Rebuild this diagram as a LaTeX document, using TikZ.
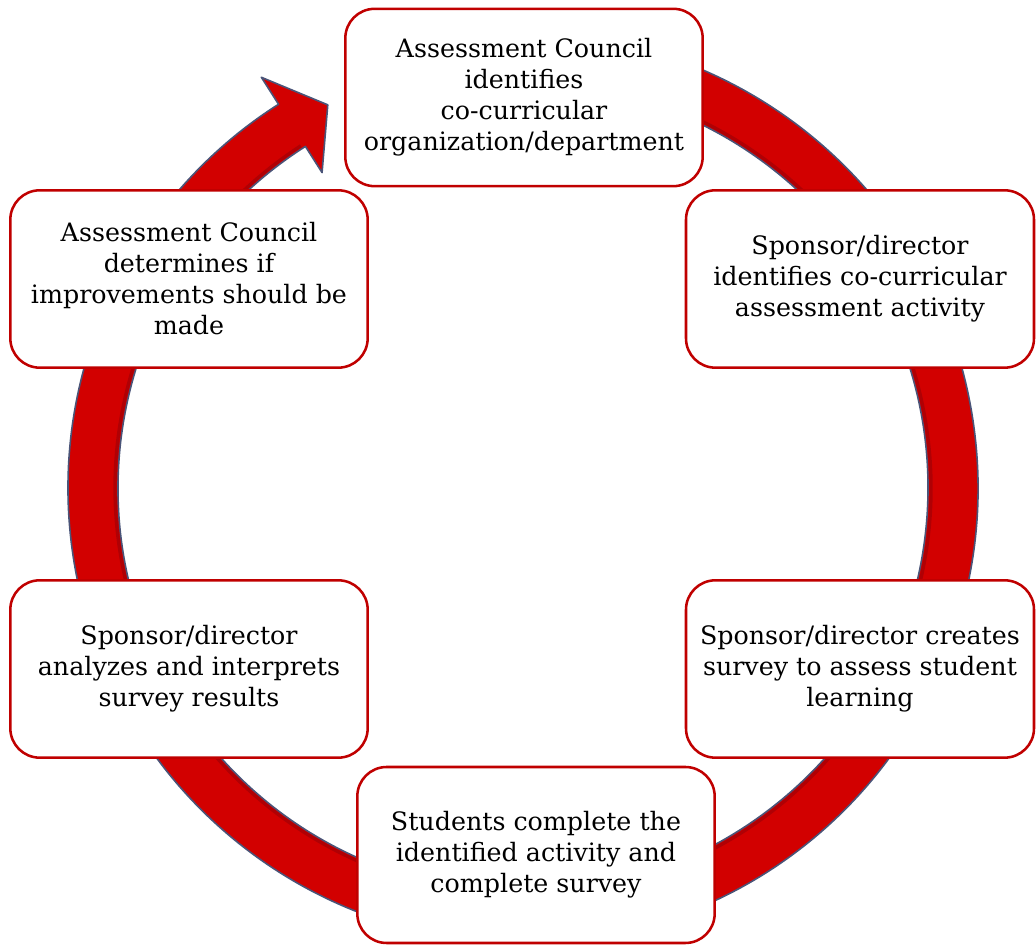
\documentclass[tikz,border=0pt]{standalone}
\usepackage{fontspec}
\setmainfont{DejaVu Serif}
\usetikzlibrary{arrows.meta}
\definecolor{boxred}{HTML}{C00000}
\definecolor{ringred}{HTML}{D20000}
\definecolor{ringdark}{HTML}{9A0008}
\definecolor{ringedge}{HTML}{4A5478}
\tikzset{
  stage/.style={rectangle, rounded corners=22pt, draw=boxred, fill=white, line width=1.9pt,
                align=center, minimum width=268pt, minimum height=133pt, inner sep=4pt,
                font=\fontsize{19}{23.25}\selectfont},
  ring/.style={fill=ringred, draw=ringedge, line width=1.2pt, line join=round},
}
\begin{document}
\begin{tikzpicture}[x=0.75pt, y=0.75pt]
\useasboundingbox (0,0) rectangle (1036,945);

% ring with arrow head
\begin{scope}[shift={(523,457)}]
\path[ring] (100:455) arc[start angle=100, end angle=-237.5, radius=455]
  -- (122.5:487) -- (117:430) -- (122.5:374) -- (122.5:405)
  arc[start angle=-237.5, end angle=100, radius=405] -- cycle;
\draw[ringdark, line width=2.5pt, opacity=0.6] (100:408) arc[start angle=100, end angle=-237, radius=408];
\end{scope}

\node[stage] (council) at (524,847.5) {Assessment Council\\identifies\\co-curricular\\organization/department};
\node[stage, minimum width=261pt] (activity) at (860,666) {Sponsor/director\\identifies co-curricular\\assessment activity};
\node[stage, minimum width=261pt] (survey) at (860,276) {Sponsor/director creates\\survey to assess student\\learning};
\node[stage, minimum height=132pt] (students) at (536,90) {Students complete the\\identified activity and\\complete survey};
\node[stage] (analyze) at (189,276) {Sponsor/director\\analyzes and interprets\\survey results};
\node[stage] (improve) at (189,666) {Assessment Council\\determines if\\improvements should be\\made};
\end{tikzpicture}
\end{document}
